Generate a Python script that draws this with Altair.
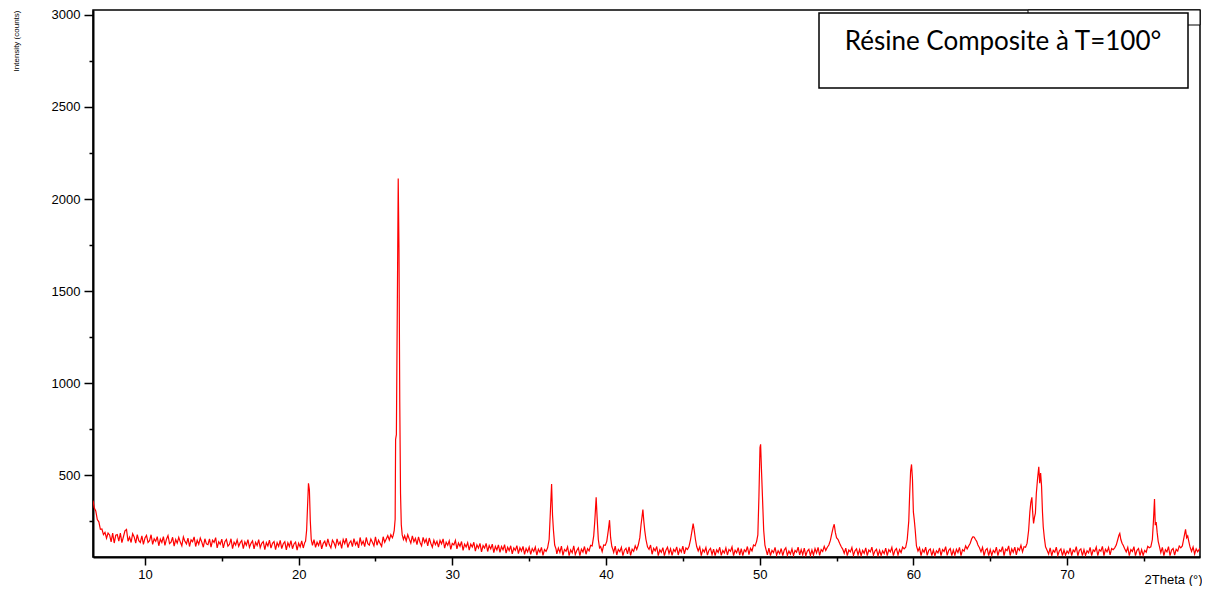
import altair as alt
import pandas as pd

# ---- XRD scan: (2theta in degrees, intensity in counts) ----
scan_06_20 = [
    (6.62, 362), (6.7, 322), (6.8, 305), (6.9, 258), (7.0, 246), (7.1, 205), (7.2, 207), (7.3, 177),
    (7.4, 189), (7.5, 157), (7.6, 185), (7.7, 175), (7.8, 137), (7.9, 185), (8.0, 131), (8.1, 173),
    (8.2, 177), (8.3, 141), (8.4, 185), (8.5, 133), (8.6, 165), (8.7, 197), (8.8, 205), (8.9, 141),
    (9.0, 163), (9.1, 134), (9.2, 182), (9.3, 164), (9.4, 130), (9.5, 176), (9.6, 144), (9.7, 134),
    (9.8, 170), (9.9, 124), (10.0, 158), (10.1, 172), (10.2, 134), (10.3, 144), (10.4, 176), (10.5, 124),
    (10.6, 154), (10.7, 140), (10.8, 166), (10.9, 116), (11.0, 152), (11.1, 134), (11.2, 166), (11.3, 118),
    (11.4, 152), (11.5, 172), (11.6, 128), (11.7, 136), (11.8, 162), (11.9, 114), (12.0, 150), (12.1, 130),
    (12.2, 162), (12.3, 136), (12.4, 116), (12.5, 164), (12.6, 140), (12.7, 126), (12.8, 158), (12.9, 112),
    (13.0, 148), (13.1, 138), (13.2, 164), (13.3, 112), (13.4, 146), (13.5, 124), (13.6, 158), (13.7, 136),
    (13.8, 108), (13.9, 154), (14.0, 126), (14.1, 122), (14.2, 154), (14.3, 108), (14.4, 146), (14.5, 134),
    (14.6, 160), (14.7, 104), (14.8, 138), (14.9, 124), (15.0, 152), (15.1, 104), (15.2, 138), (15.3, 150),
    (15.4, 114), (15.5, 124), (15.6, 154), (15.7, 100), (15.8, 136), (15.9, 120), (16.0, 148), (16.1, 113),
    (16.2, 133), (16.3, 145), (16.4, 101), (16.5, 137), (16.6, 119), (16.7, 149), (16.8, 107), (16.9, 129),
    (17.0, 143), (17.1, 99), (17.2, 135), (17.3, 117), (17.4, 149), (17.5, 105), (17.6, 129), (17.7, 139),
    (17.8, 95), (17.9, 133), (18.0, 115), (18.1, 147), (18.2, 103), (18.3, 129), (18.4, 139), (18.5, 95),
    (18.6, 133), (18.7, 113), (18.8, 145), (18.9, 101), (19.0, 127), (19.1, 138), (19.2, 94), (19.3, 132),
    (19.4, 112), (19.5, 144), (19.6, 100), (19.7, 126), (19.8, 136), (19.9, 92), (20.0, 130), (20.1, 110),
    (20.2, 142), (20.3, 104), (20.4, 134),
]
scan_20_26 = [
    (20.45, 140), (20.52, 200), (20.58, 330), (20.64, 455), (20.70, 420), (20.76, 250), (20.82, 150),
    (20.9, 118), (21.0, 149), (21.1, 107), (21.2, 135), (21.3, 117), (21.4, 147), (21.5, 99), (21.6, 129),
    (21.7, 141), (21.8, 111), (21.9, 153), (22.0, 121), (22.1, 104), (22.2, 146), (22.3, 132), (22.4, 108),
    (22.5, 154), (22.6, 122), (22.7, 138), (22.8, 102), (22.9, 150), (23.0, 128), (23.1, 157), (23.2, 107),
    (23.3, 131), (23.4, 143), (23.5, 111), (23.6, 155), (23.7, 121), (23.8, 137), (23.9, 105), (24.0, 161),
    (24.1, 123), (24.2, 141), (24.3, 111), (24.4, 161), (24.5, 127), (24.6, 119), (24.7, 153), (24.8, 135),
    (24.9, 115), (25.0, 165), (25.1, 119), (25.2, 147), (25.3, 129), (25.4, 113), (25.5, 165), (25.6, 135),
    (25.7, 153), (25.8, 171), (25.9, 147), (26.0, 176), (26.1, 160), (26.15, 172),
    (26.22, 200), (26.28, 260), (26.31, 694), (26.36, 720), (26.42, 1400), (26.48, 2112), (26.53, 1723),
    (26.58, 900), (26.63, 400), (26.68, 230), (26.74, 175), (26.82, 150),
]
scan_27_36 = [
    (26.9, 170), (27.0, 142), (27.1, 176), (27.2, 152), (27.3, 130), (27.4, 170), (27.5, 138), (27.6, 156),
    (27.7, 122), (27.8, 164), (27.9, 134), (28.0, 116), (28.1, 162), (28.2, 134), (28.3, 152), (28.4, 116),
    (28.5, 158), (28.6, 130), (28.7, 108), (28.8, 146), (28.9, 122), (29.0, 140), (29.1, 109), (29.2, 145),
    (29.3, 127), (29.4, 153), (29.5, 103), (29.6, 135), (29.7, 119), (29.8, 143), (29.9, 97), (30.0, 129),
    (30.1, 121), (30.2, 145), (30.3, 99), (30.4, 131), (30.5, 113), (30.6, 139), (30.7, 91), (30.8, 125),
    (30.9, 109), (31.0, 133), (31.1, 93), (31.2, 125), (31.3, 109), (31.4, 135), (31.5, 87), (31.6, 121),
    (31.7, 103), (31.8, 129), (31.9, 83), (32.0, 117), (32.1, 103), (32.2, 129), (32.3, 85), (32.4, 117),
    (32.5, 99), (32.6, 125), (32.7, 79), (32.8, 113), (32.9, 93), (33.0, 121), (33.1, 80), (33.2, 112),
    (33.3, 94), (33.4, 122), (33.5, 76), (33.6, 108), (33.7, 90), (33.8, 116), (33.9, 72), (34.0, 104),
    (34.1, 91), (34.2, 117), (34.3, 73), (34.4, 105), (34.5, 87), (34.6, 113), (34.7, 69), (34.8, 101),
    (34.9, 83), (35.0, 109), (35.1, 69), (35.2, 101), (35.3, 85), (35.4, 109), (35.5, 65), (35.6, 97),
    (35.7, 81), (35.8, 107), (35.9, 64), (36.0, 95), (36.1, 85), (36.2, 105),
]
scan_36_46 = [
    (36.30, 150), (36.38, 300), (36.46, 451), (36.52, 283), (36.58, 200), (36.66, 120), (36.75, 98),
    (36.8, 72), (36.9, 104), (37.0, 80), (37.1, 114), (37.2, 64), (37.3, 96), (37.4, 86), (37.5, 110),
    (37.6, 62), (37.7, 94), (37.8, 78), (37.9, 116), (38.0, 68), (38.1, 90), (38.2, 104), (38.3, 63),
    (38.4, 98), (38.5, 82), (38.6, 112), (38.7, 70), (38.8, 100), (38.9, 88), (39.0, 118), (39.1, 115),
    (39.2, 170), (39.27, 250), (39.36, 379), (39.42, 273), (39.5, 150), (39.58, 105),
    (39.65, 112), (39.75, 84), (39.85, 120), (39.95, 118),
    (40.05, 140), (40.15, 200), (40.23, 255), (40.3, 160), (40.38, 112), (40.45, 95),
    (40.5, 80), (40.6, 114), (40.7, 66), (40.8, 96), (40.9, 84), (41.0, 108), (41.1, 62), (41.2, 92),
    (41.3, 102), (41.4, 72), (41.5, 110), (41.6, 64), (41.7, 98), (41.8, 86), (41.9, 116), (42.0, 96),
    (42.1, 120), (42.2, 160), (42.28, 230), (42.34, 270), (42.40, 313), (42.46, 250), (42.52, 200),
    (42.6, 150), (42.7, 110),
    (42.8, 96), (42.9, 120), (43.0, 70), (43.1, 102), (43.2, 88), (43.3, 112), (43.4, 63), (43.5, 94),
    (43.6, 80), (43.7, 106), (43.8, 62), (43.9, 92), (44.0, 108), (44.1, 74), (44.2, 100), (44.3, 64),
    (44.4, 96), (44.5, 84), (44.6, 110), (44.7, 66), (44.8, 98), (44.9, 82), (45.0, 114), (45.1, 72),
    (45.2, 104), (45.3, 96), (45.4, 112),
    (45.5, 150), (45.6, 200), (45.67, 237), (45.74, 200), (45.82, 150), (45.9, 112),
]
scan_46_55 = [
    (46.0, 88), (46.1, 110), (46.2, 63), (46.3, 96), (46.4, 82), (46.5, 106), (46.6, 65), (46.7, 92),
    (46.8, 102), (46.9, 68), (47.0, 98), (47.1, 62), (47.2, 94), (47.3, 80), (47.4, 108), (47.5, 64),
    (47.6, 90), (47.7, 76), (47.8, 104), (47.9, 66), (48.0, 96), (48.1, 86), (48.2, 110), (48.3, 63),
    (48.4, 92), (48.5, 78), (48.6, 106), (48.7, 65), (48.8, 100), (48.9, 62), (49.0, 94), (49.1, 84),
    (49.2, 112), (49.3, 68), (49.4, 102), (49.5, 88), (49.6, 120), (49.7, 115),
    (49.8, 140), (49.88, 175), (49.95, 382), (50.02, 650), (50.06, 667), (50.12, 520), (50.18, 382),
    (50.26, 200), (50.34, 120),
    (50.4, 99), (50.5, 67), (50.6, 103), (50.7, 63), (50.8, 91), (50.9, 79), (51.0, 107), (51.1, 65),
    (51.2, 89), (51.3, 73), (51.4, 101), (51.5, 62), (51.6, 93), (51.7, 105), (51.8, 64), (51.9, 87),
    (52.0, 71), (52.1, 99), (52.2, 63), (52.3, 91), (52.4, 81), (52.5, 109), (52.6, 66), (52.7, 95),
    (52.8, 67), (52.9, 103), (53.0, 62), (53.1, 87), (53.2, 97), (53.3, 63), (53.4, 93), (53.5, 65),
    (53.6, 101), (53.7, 77), (53.8, 107), (53.9, 64), (54.0, 95), (54.1, 85), (54.2, 113), (54.3, 91),
    (54.4, 108),
    (54.5, 120), (54.6, 145), (54.7, 185), (54.78, 215), (54.85, 233), (54.92, 190), (55.0, 160),
    (55.1, 150), (55.2, 130), (55.3, 112), (55.4, 98),
]
scan_55_64 = [
    (55.5, 75), (55.6, 103), (55.7, 63), (55.8, 93), (55.9, 83), (56.0, 107), (56.1, 64), (56.2, 89),
    (56.3, 99), (56.4, 66), (56.5, 95), (56.6, 62), (56.7, 91), (56.8, 75), (56.9, 105), (57.0, 63),
    (57.1, 93), (57.2, 83), (57.3, 109), (57.4, 65), (57.5, 87), (57.6, 97), (57.7, 62), (57.8, 91),
    (57.9, 64), (58.0, 89), (58.1, 73), (58.2, 103), (58.3, 62), (58.4, 95), (58.5, 83), (58.6, 107),
    (58.7, 63), (58.8, 91), (58.9, 101), (59.0, 66), (59.1, 95), (59.2, 79), (59.3, 109), (59.4, 99),
    (59.5, 108),
    (59.6, 150), (59.7, 250), (59.76, 400), (59.82, 520), (59.88, 558), (59.94, 480), (60.0, 300),
    (60.06, 255), (60.12, 200), (60.2, 115),
    (60.3, 87), (60.4, 105), (60.5, 62), (60.6, 95), (60.7, 81), (60.8, 109), (60.9, 64), (61.0, 91),
    (61.1, 99), (61.2, 63), (61.3, 93), (61.4, 62), (61.5, 89), (61.6, 77), (61.7, 105), (61.8, 63),
    (61.9, 95), (62.0, 85), (62.1, 111), (62.2, 64), (62.3, 91), (62.4, 101), (62.5, 62), (62.6, 93),
    (62.7, 65), (62.8, 97), (62.9, 79), (63.0, 107), (63.1, 63), (63.2, 95), (63.3, 87), (63.4, 115),
    (63.5, 99),
    (63.6, 115), (63.7, 130), (63.8, 155), (63.88, 165), (63.96, 162), (64.04, 150), (64.12, 140),
    (64.2, 120), (64.3, 105),
]
scan_64_79 = [
    (64.4, 83), (64.5, 107), (64.6, 63), (64.7, 93), (64.8, 101), (64.9, 63), (65.0, 95), (65.1, 64),
    (65.2, 91), (65.3, 79), (65.4, 109), (65.5, 62), (65.6, 93), (65.7, 85), (65.8, 111), (65.9, 63),
    (66.0, 97), (66.1, 89), (66.2, 115), (66.3, 63), (66.4, 99), (66.5, 81), (66.6, 109), (66.7, 67),
    (66.8, 103), (66.9, 91), (67.0, 119), (67.1, 83), (67.2, 111), (67.3, 108),
    (67.4, 130), (67.5, 200), (67.58, 300), (67.64, 350), (67.71, 379), (67.76, 300), (67.82, 237),
    (67.88, 270), (67.94, 293), (68.0, 400), (68.08, 480), (68.16, 545), (68.22, 456), (68.28, 511),
    (68.34, 440), (68.4, 300), (68.45, 219), (68.52, 160), (68.6, 110), (68.7, 92),
    (68.8, 71), (68.9, 105), (69.0, 62), (69.1, 91), (69.2, 81), (69.3, 109), (69.4, 64), (69.5, 89),
    (69.6, 99), (69.7, 62), (69.8, 93), (69.9, 65), (70.0, 87), (70.1, 75), (70.2, 105), (70.3, 63),
    (70.4, 93), (70.5, 83), (70.6, 111), (70.7, 62), (70.8, 91), (70.9, 99), (71.0, 63), (71.1, 95),
    (71.2, 64), (71.3, 89), (71.4, 77), (71.5, 107), (71.6, 62), (71.7, 93), (71.8, 85), (71.9, 109),
    (72.0, 63), (72.1, 95), (72.2, 87), (72.3, 113), (72.4, 62), (72.5, 97), (72.6, 83), (72.7, 107),
    (72.8, 67), (72.9, 101), (73.0, 95), (73.1, 105),
    (73.2, 120), (73.3, 150), (73.38, 175), (73.43, 183), (73.5, 150), (73.58, 130), (73.66, 118),
    (73.75, 100),
    (73.85, 83), (73.95, 107), (74.05, 62), (74.15, 95), (74.25, 85), (74.35, 111), (74.45, 63),
    (74.55, 91), (74.65, 101), (74.75, 63), (74.85, 95), (74.95, 64), (75.05, 91), (75.15, 81),
    (75.25, 113), (75.35, 105), (75.45, 110),
    (75.55, 150), (75.62, 250), (75.69, 370), (75.74, 228), (75.8, 245), (75.86, 190), (75.93, 140),
    (76.0, 115),
    (76.1, 79), (76.2, 107), (76.3, 63), (76.4, 95), (76.5, 83), (76.6, 111), (76.7, 62), (76.8, 93),
    (76.9, 101), (77.0, 65), (77.1, 97), (77.2, 87), (77.3, 115), (77.4, 105), (77.5, 115),
    (77.58, 150), (77.65, 180), (77.71, 205), (77.78, 160), (77.85, 170), (77.92, 140), (78.0, 110),
    (78.1, 85), (78.2, 109), (78.3, 71), (78.4, 99), (78.5, 83), (78.65, 103),
]

x_major = [10, 20, 30, 40, 50, 60, 70]
x_minor = [15, 25, 35, 45, 55, 65, 75]
y_major = [500, 1000, 1500, 2000, 2500, 3000]
y_minor = [250, 750, 1250, 1750, 2250, 2750]
x_domain = [6.62, 78.65]
y_domain = [55, 3027]

x_title = "2Theta (°)"
y_title = "Intensity (counts)"
note = "Résine Composite à T=100°"

segments = [scan_06_20, scan_20_26, scan_27_36, scan_36_46, scan_46_55, scan_55_64, scan_64_79]
rows = [p for seg in segments for p in seg]
df = pd.DataFrame(rows, columns=["tt", "counts"])

xs = alt.Scale(domain=x_domain, nice=False, zero=False)
ys = alt.Scale(domain=y_domain, nice=False, zero=False)

line = alt.Chart(df).mark_line(color="#ff0000", strokeWidth=1.2, clip=True).encode(
    x=alt.X("tt:Q", scale=xs, sort=None, axis=alt.Axis(
        orient="bottom", values=x_major, format="d", tickSize=8, tickWidth=1.5, domainWidth=2,
        labelPadding=3, title=x_title, titleX=1109, titleY=26,
        titleAlign="right", titleBaseline="alphabetic", titleFontSize=13,
        titleFont="Liberation Sans", titleFontWeight="normal")),
    y=alt.Y("counts:Q", scale=ys, axis=alt.Axis(
        orient="left", values=y_major, format="d", tickSize=9, tickWidth=1.5, domainWidth=2,
        labelPadding=4, title=y_title, titleAngle=270, titleX=-75, titleY=0,
        titleAlign="right", titleBaseline="alphabetic", titleFontSize=8,
        titleFont="Liberation Sans", titleFontWeight="normal")),
)

minor = alt.Chart(df).mark_point(opacity=0).encode(
    x=alt.X("tt:Q", scale=xs, axis=alt.Axis(
        orient="bottom", values=x_minor, labels=False, domain=False, tickSize=4,
        tickWidth=1.5, title="")),
    y=alt.Y("counts:Q", scale=ys, axis=alt.Axis(
        orient="left", values=y_minor, labels=False, domain=False, tickSize=4,
        tickWidth=1.5, title="")),
)

note_df = pd.DataFrame({"label": [note]})
legend_box = alt.Chart(note_df).mark_rect(fill="white", stroke="black", strokeWidth=1).encode(
    x=alt.value(935), x2=alt.value(1107), y=alt.value(0), y2=alt.value(15))
note_box = alt.Chart(note_df).mark_rect(fill="white", stroke="black", strokeWidth=1.5).encode(
    x=alt.value(726), x2=alt.value(1095), y=alt.value(3), y2=alt.value(78))
note_text = alt.Chart(note_df).mark_text(
    font="Lato", fontSize=26, color="black", align="center", baseline="alphabetic").encode(
    x=alt.value(910), y=alt.value(40), text="label:N")

chart = alt.layer(line, minor, legend_box, note_box, note_text).resolve_axis(
    x="independent", y="independent"
).properties(
    width=1107, height=547,
    padding={"left": 85, "top": 2, "right": 2, "bottom": 29},
    autosize=alt.AutoSizeParams(type="none"),
    background="white",
).configure_view(
    stroke="black", strokeWidth=1.5
).configure_axis(
    grid=False, labelFont="Liberation Sans", labelFontSize=13, labelColor="black",
    domainColor="black", tickColor="black", titleColor="black",
)

chart.save("out.html", embed_options={"renderer": "svg", "actions": False})
